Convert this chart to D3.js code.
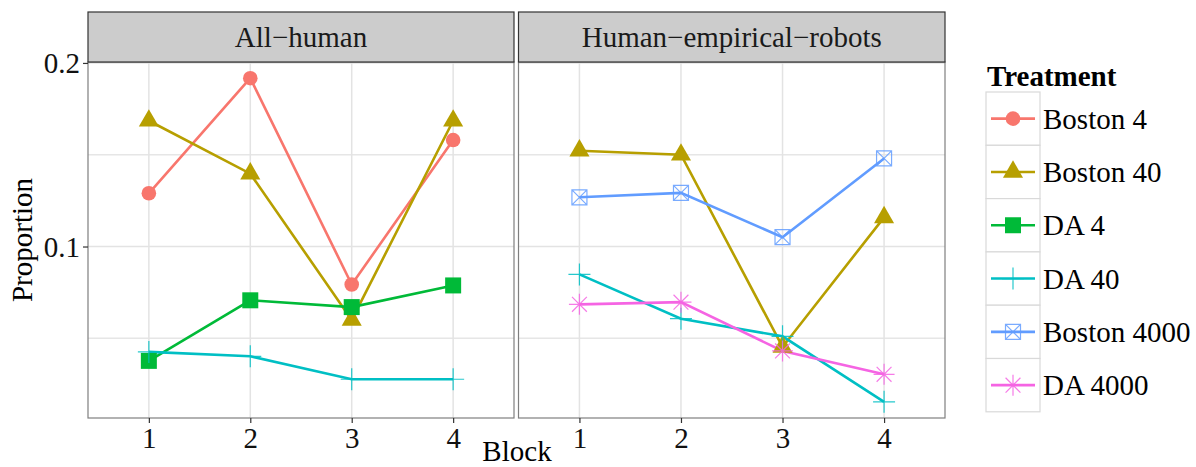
<!DOCTYPE html>
<html>
<head>
<meta charset="utf-8">
<script src="https://cdn.jsdelivr.net/npm/d3@7"></script>
<style>
body { margin: 0; background: #fff; }
text { font-family: "Liberation Serif", "Times New Roman", serif; }
</style>
</head>
<body>
<div id="chart"></div>
<script>
// data
var blocks = [1, 2, 3, 4];
var facets = ["All\u2212human", "Human\u2212empirical\u2212robots"];
var treatments = ["Boston 4", "Boston 40", "DA 4", "DA 40", "Boston 4000", "DA 4000"];
var colors = ["#F8766D", "#B79F00", "#00BA38", "#00BFC4", "#619CFF", "#F564E3"];
var shapes = ["circle", "triangle", "square", "plus", "squarecross", "asterisk"];

// values per facet, per treatment (missing = not in that facet)
var allHuman = {
	"Boston 4":  [0.129, 0.1917, 0.0793, 0.158],
	"Boston 40": [0.1685, 0.1397, 0.060, 0.1685],
	"DA 4":      [0.0377, 0.0707, 0.067, 0.0788],
	"DA 40":     [0.0426, 0.0402, 0.0277, 0.0277]
};
var humanRobots = {
	"Boston 40":   [0.1522, 0.150, 0.0453, 0.1159],
	"DA 40":       [0.0848, 0.0607, 0.0511, 0.0154],
	"Boston 4000": [0.1268, 0.1292, 0.1051, 0.148],
	"DA 4000":     [0.0685, 0.0697, 0.0431, 0.0304]
};
var facetData = [allHuman, humanRobots];
var yTicks = [0.1, 0.2];
var yMinor = [0.05, 0.15];

var width = 1196, height = 467;
var svg = d3.select("#chart").append("svg")
	.attr("width", width)
	.attr("height", height);

var panelTop = 62, panelBottom = 418, stripTop = 12;
var panels = [[88, 514], [518.5, 945]];

// y extent with ggplot style 5% expansion
var allVals = [];
facetData.forEach(function(f){
	Object.keys(f).forEach(function(k){ allVals = allVals.concat(f[k]); });
});
var ext = d3.extent(allVals);
var pad = (ext[1] - ext[0]) * 0.05;
var y = d3.scaleLinear()
	.domain([ext[0] - pad, ext[1] + pad])
	.range([panelBottom, panelTop]);

function symbolPath(shape){
	var r, p, q;
	if(shape == "circle"){
		return d3.symbol().type(d3.symbolCircle).size(Math.PI * 7.3 * 7.3)();
	}
	if(shape == "triangle"){
		r = 11.6;
		return "M0," + (-r) + "L" + (r * 0.866) + "," + (r / 2) + "L" + (-r * 0.866) + "," + (r / 2) + "Z";
	}
	if(shape == "square"){
		return "M-8,-8H8V8H-8Z";
	}
	if(shape == "plus"){
		return "M-11,0H11M0,-11V11";
	}
	if(shape == "squarecross"){
		return "M-7.5,-7.5H7.5V7.5H-7.5ZM-7.5,-7.5L7.5,7.5M7.5,-7.5L-7.5,7.5";
	}
	if(shape == "asterisk"){
		p = 10.5;
		q = p * 0.707;
		return "M-" + p + ",0H" + p + "M0,-" + p + "V" + p +
			"M" + (-q) + "," + (-q) + "L" + q + "," + q +
			"M" + q + "," + (-q) + "L" + (-q) + "," + q;
	}
}
function isFilled(shape){
	return shape == "circle" || shape == "triangle" || shape == "square";
}

facetData.forEach(function(fd, pi){
	var x0 = panels[pi][0], x1 = panels[pi][1];
	var x = d3.scaleLinear().domain([0.4, 4.6]).range([x0, x1]);
	var g = svg.append("g");

	// panel background
	g.append("rect")
		.attr("x", x0).attr("y", panelTop)
		.attr("width", x1 - x0).attr("height", panelBottom - panelTop)
		.attr("fill", "#fff");

	// minor grid
	g.selectAll(".minor").data(yMinor).enter().append("line")
		.attr("x1", x0).attr("x2", x1)
		.attr("y1", function(d){ return y(d); })
		.attr("y2", function(d){ return y(d); })
		.attr("stroke", "#E6E6E6").attr("stroke-width", 1.5);
	// major grid
	g.selectAll(".hmajor").data(yTicks).enter().append("line")
		.attr("x1", x0).attr("x2", x1)
		.attr("y1", function(d){ return y(d); })
		.attr("y2", function(d){ return y(d); })
		.attr("stroke", "#E3E3E3").attr("stroke-width", 1.5);
	g.selectAll(".vmajor").data(blocks).enter().append("line")
		.attr("x1", function(d){ return x(d); })
		.attr("x2", function(d){ return x(d); })
		.attr("y1", panelTop).attr("y2", panelBottom)
		.attr("stroke", "#E3E3E3").attr("stroke-width", 1.5);

	// lines
	var line = d3.line()
		.x(function(d, i){ return x(blocks[i]); })
		.y(function(d){ return y(d); });

	treatments.forEach(function(t, ti){
		if(!fd[t]) return;
		g.append("path")
			.attr("d", line(fd[t]))
			.attr("fill", "none")
			.attr("stroke", colors[ti])
			.attr("stroke-width", 2.6);
	});
	treatments.forEach(function(t, ti){
		if(!fd[t]) return;
		var sh = shapes[ti];
		g.selectAll(".pt" + ti).data(fd[t]).enter().append("path")
			.attr("transform", function(d, i){
				return "translate(" + x(blocks[i]) + "," + y(d) + ")";
			})
			.attr("d", symbolPath(sh))
			.attr("fill", isFilled(sh) ? colors[ti] : "none")
			.attr("stroke", colors[ti])
			.attr("stroke-opacity", isFilled(sh) ? 0 : 0.85)
			.attr("stroke-width", isFilled(sh) ? 0 : 1.2);
	});

	// panel border
	g.append("rect")
		.attr("x", x0).attr("y", panelTop)
		.attr("width", x1 - x0).attr("height", panelBottom - panelTop)
		.attr("fill", "none").attr("stroke", "#7F7F7F").attr("stroke-width", 1.2);

	// strip
	g.append("rect")
		.attr("x", x0).attr("y", stripTop)
		.attr("width", x1 - x0).attr("height", panelTop - stripTop)
		.attr("fill", "#CCCCCC").attr("stroke", "#333333").attr("stroke-width", 1.2);
	g.append("text")
		.attr("x", (x0 + x1) / 2).attr("y", 47)
		.attr("text-anchor", "middle")
		.attr("font-size", 29)
		.attr("fill", "#1a1a1a")
		.text(facets[pi]);

	// x axis
	var xAxis = d3.axisBottom(x).tickValues(blocks).tickSize(5).tickPadding(4).tickFormat(d3.format("d"));
	var ax = svg.append("g")
		.attr("transform", "translate(0," + panelBottom + ")")
		.call(xAxis);
	ax.select(".domain").remove();
	ax.selectAll("line").attr("stroke", "#333").attr("stroke-width", 1.2);
	ax.selectAll("text").attr("font-size", 29).attr("fill", "#111")
		.attr("font-family", "Liberation Serif").attr("dy", "0.72em");

	if(pi == 0){
		var yAxis = d3.axisLeft(y).tickValues(yTicks).tickSize(5).tickPadding(3).tickFormat(d3.format(".1f"));
		var ay = svg.append("g")
			.attr("transform", "translate(" + x0 + ",0)")
			.call(yAxis);
		ay.select(".domain").remove();
		ay.selectAll("line").attr("stroke", "#333").attr("stroke-width", 1.2);
		ay.selectAll("text").attr("font-size", 29).attr("fill", "#111")
			.attr("font-family", "Liberation Serif").attr("dy", "0.33em");
	}
});

// axis titles
svg.append("text")
	.attr("x", 517).attr("y", 461)
	.attr("text-anchor", "middle")
	.attr("font-size", 29)
	.text("Block");
svg.append("text")
	.attr("transform", "translate(32,240) rotate(-90)")
	.attr("text-anchor", "middle")
	.attr("font-size", 29)
	.text("Proportion");

// legend
var legX = 986, legTop = 92, keyH = 53.3, keyW = 54;
svg.append("text")
	.attr("x", legX + 1).attr("y", 86)
	.attr("font-size", 29)
	.attr("font-weight", "bold")
	.text("Treatment");

var keys = svg.selectAll(".key").data(treatments).enter().append("g")
	.attr("transform", function(d, i){ return "translate(" + legX + "," + (legTop + i * keyH) + ")"; });
keys.append("rect")
	.attr("width", keyW).attr("height", keyH)
	.attr("fill", "#fff").attr("stroke", "#D9D9D9").attr("stroke-width", 1.2);
keys.append("line")
	.attr("x1", 5).attr("x2", keyW - 5)
	.attr("y1", keyH / 2).attr("y2", keyH / 2)
	.attr("stroke", function(d, i){ return colors[i]; })
	.attr("stroke-width", 2.6);
keys.append("path")
	.attr("transform", "translate(" + (keyW / 2) + "," + (keyH / 2) + ")")
	.attr("d", function(d, i){ return symbolPath(shapes[i]); })
	.attr("fill", function(d, i){ return isFilled(shapes[i]) ? colors[i] : "none"; })
	.attr("stroke", function(d, i){ return colors[i]; })
	.attr("stroke-opacity", function(d, i){ return isFilled(shapes[i]) ? 0 : 0.85; })
	.attr("stroke-width", function(d, i){ return isFilled(shapes[i]) ? 0 : 1.2; });
keys.append("text")
	.attr("x", keyW + 3).attr("y", keyH / 2 + 10)
	.attr("font-size", 29)
	.text(function(d){ return d; });
</script>
</body>
</html>
